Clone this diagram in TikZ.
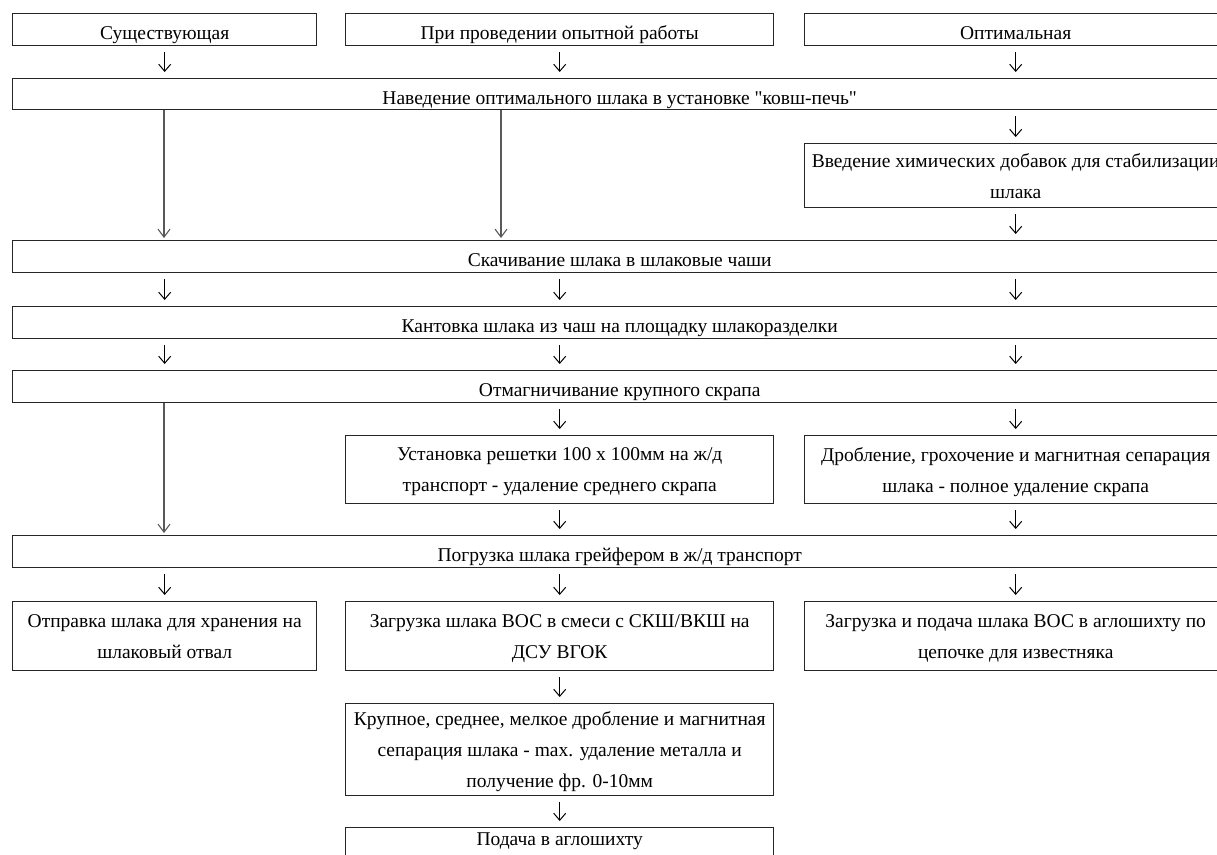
\documentclass[tikz,border=0pt]{standalone}
\usepackage{fontspec}
\setmainfont{Liberation Serif}[Ligatures=TeXOff]
\usetikzlibrary{arrows.meta}
\begin{document}
\begin{tikzpicture}[x=1pt,y=-1pt,
  boxbase/.style={draw=black!85, line width=1.4pt, fill=white, inner sep=0pt,
    align=center, anchor=north west,
    font=\fontsize{19.5}{31}\selectfont},
  box/.style={boxbase, text depth=0pt,
    execute at begin node={\rule{0pt}{20pt}}},
  sa/.style={draw=black, line width=1pt, shorten <=6pt, shorten >=6pt,
    -{Straight Barb[length=7pt,width=12pt,line width=1pt]}},
  la/.style={draw=black!65, line width=1.2pt, shorten >=2pt,
    -{Straight Barb[length=8pt,width=12pt,line width=1.1pt]}}]
\useasboundingbox (0,0) rectangle (1217,854);
\clip (0,0) rectangle (1217,854);
\fill[white] (0,0) rectangle (1217,854);

\node[box, minimum width=304, minimum height=32] (a1) at (12,13) {Существующая};
\node[box, minimum width=428, minimum height=32] (a2) at (345,13) {При проведении опытной работы};
\node[box, minimum width=422, minimum height=32] (a3) at (804,13) {Оптимальная};

\node[box, minimum width=1214, minimum height=31] (b) at (12,78) {Наведение оптимального шлака в установке "ковш-печь"};
\node[box, minimum width=422, minimum height=64] (c3) at (804,143) {Введение химических добавок для стабилизации\\шлака};
\node[box, minimum width=1214, minimum height=32] (c) at (12,240) {Скачивание шлака в шлаковые чаши};
\node[box, minimum width=1214, minimum height=32] (d) at (12,306) {Кантовка шлака из чаш на площадку шлакоразделки};
\node[box, minimum width=1214, minimum height=32] (e) at (12,370) {Отмагничивание крупного скрапа};
\node[box, minimum width=428, minimum height=68] (f2) at (345,435) {Установка решетки 100 х 100мм на ж/д\\транспорт - удаление среднего скрапа};
\node[box, minimum width=422, minimum height=68] (f3) at (804,435) {Дробление, грохочение и магнитная сепарация\\шлака - полное удаление скрапа};
\node[box, minimum width=1214, minimum height=32] (g) at (12,535) {Погрузка шлака грейфером в ж/д транспорт};
\node[box, minimum width=304, minimum height=69] (h1) at (12,601) {Отправка шлака для хранения на\\шлаковый отвал};
\node[box, minimum width=428, minimum height=69] (h2) at (345,601) {Загрузка шлака ВОС в смеси с СКШ/ВКШ на\\ДСУ ВГОК};
\node[box, minimum width=422, minimum height=69] (h3) at (804,601) {Загрузка и подача шлака ВОС в аглошихту по\\цепочке для известняка};
\node[box, minimum width=428, minimum height=92] (i) at (345,703) {Крупное, среднее, мелкое дробление и магнитная\\сепарация шлака - max. удаление металла и\\получение фр. 0-10мм};
\node[boxbase, minimum width=428, minimum height=28] (j) at (345,827) {Подача в аглошихту};

\coordinate (lx1) at (164,0);
\coordinate (lx2) at (501,0);

% top row to b
\draw[sa] (a1.south) -- (a1.south |- b.north);
\draw[sa] (a2.south) -- (a2.south |- b.north);
\draw[sa] (a3.south) -- (a3.south |- b.north);
% b to c
\draw[la] (lx1 |- b.south) -- (lx1 |- c.north);
\draw[la] (lx2 |- b.south) -- (lx2 |- c.north);
\draw[sa] (c3.north |- b.south) -- (c3.north);
\draw[sa] (c3.south) -- (c3.south |- c.north);
% c to d
\draw[sa] (a1.south |- c.south) -- (a1.south |- d.north);
\draw[sa] (a2.south |- c.south) -- (a2.south |- d.north);
\draw[sa] (a3.south |- c.south) -- (a3.south |- d.north);
% d to e
\draw[sa] (a1.south |- d.south) -- (a1.south |- e.north);
\draw[sa] (a2.south |- d.south) -- (a2.south |- e.north);
\draw[sa] (a3.south |- d.south) -- (a3.south |- e.north);
% e to f / g
\draw[la] (lx1 |- e.south) -- (lx1 |- g.north);
\draw[sa] (f2.north |- e.south) -- (f2.north);
\draw[sa] (f3.north |- e.south) -- (f3.north);
\draw[sa] (f2.south) -- (f2.south |- g.north);
\draw[sa] (f3.south) -- (f3.south |- g.north);
% g to h
\draw[sa] (h1.north |- g.south) -- (h1.north);
\draw[sa] (h2.north |- g.south) -- (h2.north);
\draw[sa] (h3.north |- g.south) -- (h3.north);
% h2 to i to j
\draw[sa] (h2.south) -- (i.north);
\draw[sa] (i.south) -- (j.north);
\end{tikzpicture}
\end{document}
